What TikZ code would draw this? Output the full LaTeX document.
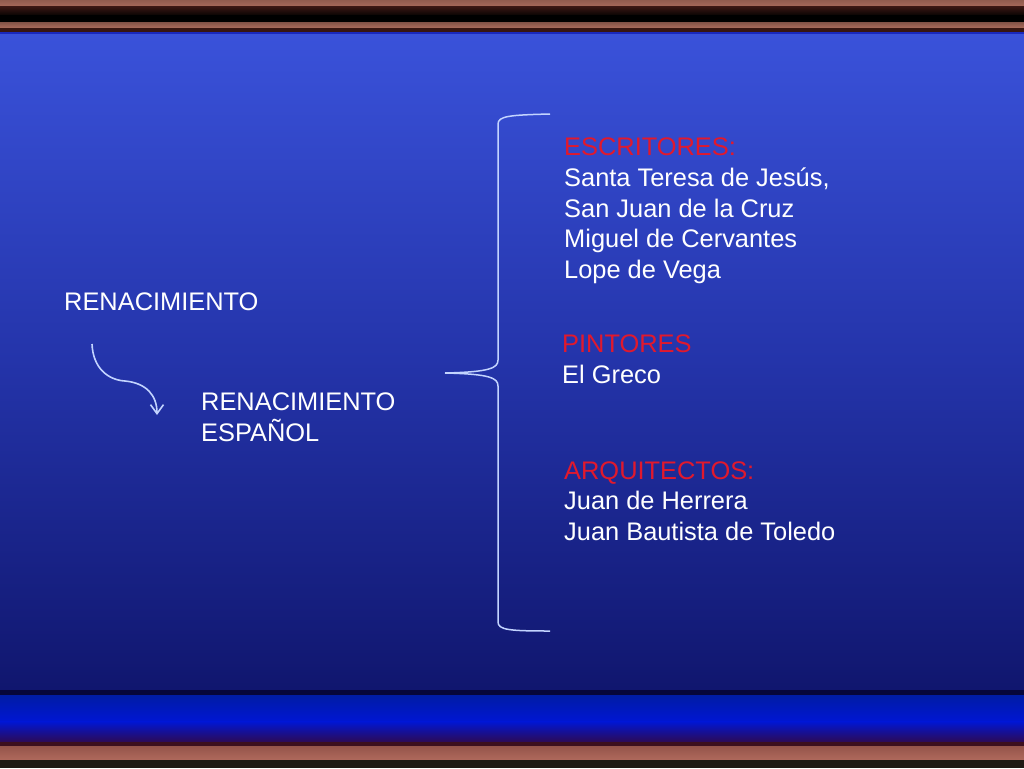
\documentclass[tikz,border=0pt]{standalone}
\usepackage{fontspec}
\setmainfont{Liberation Sans}
\usetikzlibrary{arrows.meta}
\definecolor{bgtop}{RGB}{58,82,218}
\definecolor{bgmid}{RGB}{36,52,170}
\definecolor{bgbot}{RGB}{16,22,110}
\definecolor{lbrown}{RGB}{170,108,92}
\definecolor{dbrown}{RGB}{55,22,18}
\definecolor{redtxt}{RGB}{225,25,45}
\definecolor{linecol}{RGB}{195,212,255}
\definecolor{bandblue}{RGB}{0,22,212}
\definecolor{topline}{RGB}{25,40,190}
\definecolor{darkband}{RGB}{6,6,58}
\definecolor{bandtop}{RGB}{0,28,165}
\definecolor{bandfade}{RGB}{45,10,85}
\definecolor{maroon}{RGB}{60,15,30}
\definecolor{brownA}{RGB}{150,85,75}
\definecolor{brownB}{RGB}{175,105,92}
\definecolor{bottomdark}{RGB}{32,25,20}
\tikzset{
  txt/.style={anchor=base west, inner sep=0pt, text=white, font=\fontsize{25.4}{30}\selectfont},
  head/.style={txt, text=redtxt},
  bracel/.style={draw=linecol, line width=1.5pt},
  arrowl/.style={draw=linecol, line width=1.6pt, -{Straight Barb[length=9pt,width=13pt]}}
}
\begin{document}
\begin{tikzpicture}[x=1pt,y=-1pt]
\useasboundingbox (0,0) rectangle (1024,768);
% background
\shade[top color=bgtop, bottom color=bgmid] (0,33) rectangle (1024,360);
\shade[top color=bgmid, bottom color=bgbot] (0,359.5) rectangle (1024,691);
% top stripes
\shade[top color=lbrown!85!black, bottom color=lbrown] (0,0) rectangle (1024,7.5);
\shade[top color=dbrown, bottom color=black!85!dbrown] (0,7) rectangle (1024,15.5);
\fill[black] (0,15) rectangle (1024,23);
\shade[top color=lbrown!80!black, bottom color=lbrown] (0,23) rectangle (1024,28);
\fill[dbrown] (0,28) rectangle (1024,32);
\fill[topline] (0,32) rectangle (1024,34);
% bottom bands
\fill[darkband] (0,690) rectangle (1024,695.5);
\shade[top color=bandtop, bottom color=bandblue] (0,695) rectangle (1024,722);
\shade[top color=bandblue, bottom color=bandfade] (0,721.5) rectangle (1024,742);
\fill[maroon] (0,741.5) rectangle (1024,747);
\shade[top color=brownA, bottom color=brownB] (0,746.5) rectangle (1024,760);
\fill[bottomdark] (0,759.5) rectangle (1024,768);
% left texts
\node[txt] (ren) at (64,310) {RENACIMIENTO};
\node[txt] (rene1) at (201,410) {RENACIMIENTO};
\node[txt] (rene2) at (201,441) {ESPAÑOL};
% arrow
\coordinate (as) at (92,344);
\coordinate (am) at (125,381);
\coordinate (ae) at (157,415);
\draw[arrowl] (as) .. controls (93,368) and (108,380) .. (am) .. controls (146,383) and (157,395) .. (ae);
% brace
\coordinate (bt) at (550,114);
\coordinate (btc) at (498,124);
\coordinate (bm) at (445,373);
\coordinate (bbc) at (498,622);
\coordinate (bb) at (550,631);
\draw[bracel] (bt) .. controls (510,115) and (498,116) .. (btc) -- (498,360)
  .. controls (498,368) and (490,372) .. (bm);
\draw[bracel] (bm) .. controls (490,374) and (498,378) .. (498,386) -- (bbc)
  .. controls (498,630) and (510,631) .. (bb);
% right texts
\node[head] (esc) at (564,155) {ESCRITORES:};
\node[txt] (e1) at (564,186) {Santa Teresa de Jesús,};
\node[txt] (e2) at (564,217) {San Juan de la Cruz};
\node[txt] (e3) at (564,247.5) {Miguel de Cervantes};
\node[txt] (e4) at (564,278) {Lope de Vega};
\node[head] (pin) at (562,352) {PINTORES};
\node[txt] (p1) at (562,383) {El Greco};
\node[head] (arq) at (564,479) {ARQUITECTOS:};
\node[txt] (a1) at (564,509.5) {Juan de Herrera};
\node[txt] (a2) at (564,540) {Juan Bautista de Toledo};
\end{tikzpicture}
\end{document}
